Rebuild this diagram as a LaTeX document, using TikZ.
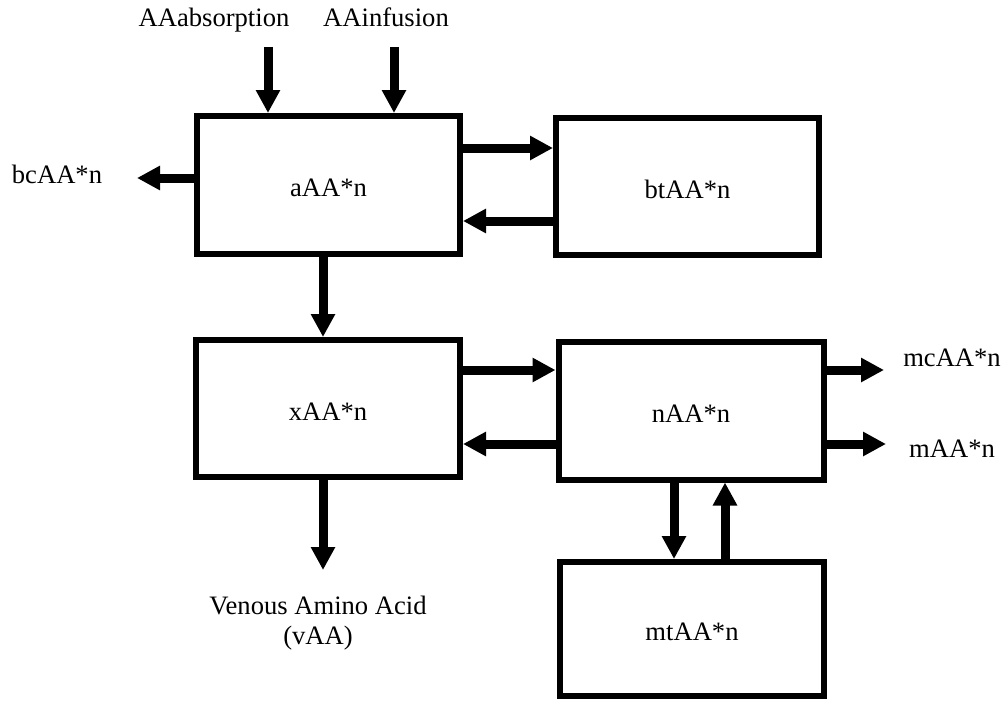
\documentclass[tikz,border=0pt]{standalone}
\usepackage{fontspec}
\setmainfont{Liberation Serif}
\usetikzlibrary{arrows.meta}
\begin{document}
\begin{tikzpicture}[x=1pt,y=-1pt,
  box/.style={draw=black, line width=6pt, rectangle, inner sep=0pt, fill=white, text height=23pt, text depth=0pt},
  arr/.style={line width=9pt, -{Triangle[length=23pt,width=23pt]}},
  lbl/.style={inner sep=0pt, anchor=base},
  font=\fontsize{26.6}{30.6}\selectfont]
\useasboundingbox (0,0) rectangle (1006,701);
% boxes
\node[box, minimum width=263pt, minimum height=138pt] (a) at (328.5,185) {aAA*n};
\node[box, minimum width=263pt, minimum height=137pt] (bt) at (687.5,186.5) {btAA*n};
\node[box, minimum width=264pt, minimum height=137pt] (x) at (328,408.5) {xAA*n};
\node[box, minimum width=265pt, minimum height=138pt] (n) at (691,410.5) {nAA*n};
\node[box, minimum width=264pt, minimum height=134pt] (mt) at (692,629) {mtAA*n};
% labels
\node[lbl] (labs) at (214,26.7) {AAabsorption};
\node[lbl] (linf) at (386,26.7) {AAinfusion};
\node[lbl] (lbc) at (57,183) {bcAA*n};
\node[lbl] (lmc) at (952,366) {mcAA*n};
\node[lbl] (lm) at (952,457) {mAA*n};
\node[inner sep=0pt, align=center, anchor=center] (lv) at (318,623) {Venous Amino Acid\\(vAA)};
% free ends
\coordinate (pabs) at (268,47);
\coordinate (pinf) at (394,47);
\coordinate (pbc) at (137,178);
\coordinate (pmc) at (884,370);
\coordinate (pm) at (886,444);
\coordinate (pv) at (323,570);
% arrows
\draw[arr] (pabs) -- (pabs |- a.north);
\draw[arr] (pinf) -- (pinf |- a.north);
\draw[arr] (pbc -| a.west) -- (pbc);
\draw[arr] (a.east |- 0,148) -- (bt.west |- 0,148);
\draw[arr] (bt.west |- 0,221) -- (a.east |- 0,221);
\draw[arr] (a.south -| 323,0) -- (x.north -| 323,0);
\draw[arr] (x.east |- 0,370) -- (n.west |- 0,370);
\draw[arr] (n.west |- 0,444) -- (x.east |- 0,444);
\draw[arr] (x.south -| pv) -- (pv);
\draw[arr] (pmc -| n.east) -- (pmc);
\draw[arr] (pm -| n.east) -- (pm);
\draw[arr] (n.south -| 674,0) -- (mt.north -| 674,0);
\draw[arr] (mt.north -| 725,0) -- (n.south -| 725,0);
\end{tikzpicture}
\end{document}
